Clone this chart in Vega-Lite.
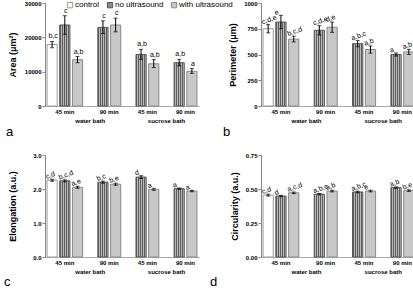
{
  "$schema": "https://vega.github.io/schema/vega-lite/v6.json",
  "padding": {"left": 3, "top": 0, "right": 0, "bottom": 0},
  "autosize": {"type": "pad"},
  "bounds": "flush",
  "columns": 2,
  "spacing": {"column": 62, "row": 49},
  "resolve": {"scale": {"fill": "independent", "stroke": "independent"}},
  "datasets": {
    "cells": [
      {"measure": "area", "id": "c45", "treat": "control", "mean": 17900, "lo": 17000, "hi": 18800, "letters": "b,c"},
      {"measure": "area", "id": "n45", "treat": "no ultrasound", "mean": 23600, "lo": 20900, "hi": 26300, "letters": "c"},
      {"measure": "area", "id": "u45", "treat": "with ultrasound", "mean": 13500, "lo": 12600, "hi": 14400, "letters": "a,b"},
      {"measure": "area", "id": "n90", "treat": "no ultrasound", "mean": 22900, "lo": 21100, "hi": 24800, "letters": "c"},
      {"measure": "area", "id": "u90", "treat": "with ultrasound", "mean": 23600, "lo": 21600, "hi": 25600, "letters": "c"},
      {"measure": "area", "id": "sn45", "treat": "no ultrasound", "mean": 15000, "lo": 13600, "hi": 16500, "letters": "a,b"},
      {"measure": "area", "id": "su45", "treat": "with ultrasound", "mean": 12300, "lo": 11200, "hi": 13500, "letters": "a,b"},
      {"measure": "area", "id": "sn90", "treat": "no ultrasound", "mean": 12600, "lo": 11700, "hi": 13600, "letters": "a,b"},
      {"measure": "area", "id": "su90", "treat": "with ultrasound", "mean": 10100, "lo": 9500, "hi": 10900, "letters": "a"},
      {"measure": "perimeter", "id": "c45", "treat": "control", "mean": 750, "lo": 710, "hi": 790, "letters": "c,d,e"},
      {"measure": "perimeter", "id": "n45", "treat": "no ultrasound", "mean": 815, "lo": 750, "hi": 880, "letters": "e"},
      {"measure": "perimeter", "id": "u45", "treat": "with ultrasound", "mean": 650, "lo": 622, "hi": 678, "letters": "b,c,d"},
      {"measure": "perimeter", "id": "n90", "treat": "no ultrasound", "mean": 735, "lo": 690, "hi": 780, "letters": "c,d,e"},
      {"measure": "perimeter", "id": "u90", "treat": "with ultrasound", "mean": 765, "lo": 715, "hi": 815, "letters": "d,e"},
      {"measure": "perimeter", "id": "sn45", "treat": "no ultrasound", "mean": 605, "lo": 575, "hi": 635, "letters": "a,b,c"},
      {"measure": "perimeter", "id": "su45", "treat": "with ultrasound", "mean": 548, "lo": 513, "hi": 583, "letters": "a,b"},
      {"measure": "perimeter", "id": "sn90", "treat": "no ultrasound", "mean": 500, "lo": 485, "hi": 515, "letters": "a"},
      {"measure": "perimeter", "id": "su90", "treat": "with ultrasound", "mean": 525, "lo": 500, "hi": 550, "letters": "a,b"},
      {"measure": "elongation", "id": "c45", "treat": "control", "mean": 2.26, "lo": 2.23, "hi": 2.29, "letters": "c,d"},
      {"measure": "elongation", "id": "n45", "treat": "no ultrasound", "mean": 2.24, "lo": 2.21, "hi": 2.27, "letters": "b,c,d"},
      {"measure": "elongation", "id": "u45", "treat": "with ultrasound", "mean": 2.05, "lo": 2.02, "hi": 2.08, "letters": "a,e"},
      {"measure": "elongation", "id": "n90", "treat": "no ultrasound", "mean": 2.2, "lo": 2.17, "hi": 2.23, "letters": "b,c"},
      {"measure": "elongation", "id": "u90", "treat": "with ultrasound", "mean": 2.14, "lo": 2.11, "hi": 2.17, "letters": "b,e"},
      {"measure": "elongation", "id": "sn45", "treat": "no ultrasound", "mean": 2.35, "lo": 2.31, "hi": 2.39, "letters": "d"},
      {"measure": "elongation", "id": "su45", "treat": "with ultrasound", "mean": 1.99, "lo": 1.96, "hi": 2.02, "letters": "a"},
      {"measure": "elongation", "id": "sn90", "treat": "no ultrasound", "mean": 2.01, "lo": 1.99, "hi": 2.03, "letters": "a"},
      {"measure": "elongation", "id": "su90", "treat": "with ultrasound", "mean": 1.94, "lo": 1.92, "hi": 1.96, "letters": "a"},
      {"measure": "circularity", "id": "c45", "treat": "control", "mean": 0.455, "lo": 0.448, "hi": 0.462, "letters": "c,d"},
      {"measure": "circularity", "id": "n45", "treat": "no ultrasound", "mean": 0.448, "lo": 0.443, "hi": 0.453, "letters": "d"},
      {"measure": "circularity", "id": "u45", "treat": "with ultrasound", "mean": 0.472, "lo": 0.466, "hi": 0.478, "letters": "a,c,d"},
      {"measure": "circularity", "id": "n90", "treat": "no ultrasound", "mean": 0.462, "lo": 0.457, "hi": 0.467, "letters": "a,b,c"},
      {"measure": "circularity", "id": "u90", "treat": "with ultrasound", "mean": 0.485, "lo": 0.479, "hi": 0.491, "letters": "a,b"},
      {"measure": "circularity", "id": "sn45", "treat": "no ultrasound", "mean": 0.478, "lo": 0.472, "hi": 0.484, "letters": "a,b,c"},
      {"measure": "circularity", "id": "su45", "treat": "with ultrasound", "mean": 0.485, "lo": 0.479, "hi": 0.491, "letters": "e"},
      {"measure": "circularity", "id": "sn90", "treat": "no ultrasound", "mean": 0.51, "lo": 0.505, "hi": 0.515, "letters": "a,b"},
      {"measure": "circularity", "id": "su90", "treat": "with ultrasound", "mean": 0.488, "lo": 0.482, "hi": 0.494, "letters": "b,e"}
    ]
  },
  "concat": [
    {
      "width": 154, "height": 103,
      "data": {"name": "cells"},
      "transform": [{"filter": "datum.measure == 'area'"}],
      "title": {"text": "a", "orient": "bottom", "anchor": "start", "frame": "bounds", "fontSize": 13, "fontWeight": "normal", "offset": 3, "dx": -2},
      "encoding": {
        "x": {"field": "id", "type": "nominal", "sort": null,
              "scale": {"domain": ["c45", "n45", "u45", "s1", "n90", "u90", "s2", "sn45", "su45", "s3", "sn90", "su90"], "paddingInner": 0.2, "paddingOuter": 0.16},
              "axis": {"title": null, "ticks": false, "labelAngle": 0, "labelPadding": 2, "labelLineHeight": 9, "domainColor": "#aaaaaa",
                       "labelOffset": {"condition": {"test": "indexof(['n90', 'sn45', 'sn90'], datum.value) >= 0", "value": 6.3}, "value": 0},
                       "labelExpr": "datum.value == 'n45' || datum.value == 'sn45' ? '45 min' : datum.value == 'n90' || datum.value == 'sn90' ? '90 min' : datum.value == 's1' ? ['', 'water bath'] : datum.value == 's3' ? ['', 'sucrose bath'] : ''"}},
        "y": {"type": "quantitative", "scale": {"domain": [0, 30000]},
              "axis": {"title": "Area (μm²)", "values": [0, 10000, 20000, 30000], "format": "d", "titleX": -33, "titleY": 51.5, "titleBaseline": "middle"}}
      },
      "layer": [
        {
          "mark": {"type": "bar", "strokeWidth": 1},
          "encoding": {
            "y": {"field": "mean", "type": "quantitative", "title": "Area (μm²)"},
            "fill": {"field": "treat", "type": "nominal",
                     "condition": {"test": "datum.treat == 'no ultrasound'", "value": {"gradient": "linear", "x1": 0, "y1": 0, "x2": 1, "y2": 0, "stops": [
                       {"offset": 0, "color": "#5e5e5e"}, {"offset": 0.1, "color": "#5e5e5e"}, {"offset": 0.1, "color": "#b8b8b8"}, {"offset": 0.2, "color": "#b8b8b8"},
                       {"offset": 0.2, "color": "#5e5e5e"}, {"offset": 0.3, "color": "#5e5e5e"}, {"offset": 0.3, "color": "#b8b8b8"}, {"offset": 0.4, "color": "#b8b8b8"},
                       {"offset": 0.4, "color": "#5e5e5e"}, {"offset": 0.5, "color": "#5e5e5e"}, {"offset": 0.5, "color": "#b8b8b8"}, {"offset": 0.6, "color": "#b8b8b8"},
                       {"offset": 0.6, "color": "#5e5e5e"}, {"offset": 0.7, "color": "#5e5e5e"}, {"offset": 0.7, "color": "#b8b8b8"}, {"offset": 0.8, "color": "#b8b8b8"},
                       {"offset": 0.8, "color": "#5e5e5e"}, {"offset": 0.9, "color": "#5e5e5e"}, {"offset": 0.9, "color": "#b8b8b8"}, {"offset": 1, "color": "#b8b8b8"}]}},
                     "scale": {"domain": ["control", "no ultrasound", "with ultrasound"], "range": ["#ffffff", "#8a8a8a", "#c8c8c8"]},
                     "legend": {"title": null, "orient": "none", "direction": "horizontal", "legendX": 21, "legendY": -2, "padding": 0,
                                "symbolType": "square", "symbolSize": 28, "symbolStrokeColor": "#777777", "symbolStrokeWidth": 1,
                                "labelFontSize": 8, "labelFontWeight": "normal", "labelOffset": 1, "columnPadding": 5}},
            "stroke": {"field": "treat", "type": "nominal", "legend": null,
                       "scale": {"domain": ["control", "no ultrasound", "with ultrasound"], "range": ["#9a9a9a", "#555555", "#8a8a8a"]}}
          }
        },
        {
          "mark": {"type": "errorbar", "color": "#000000", "ticks": {"size": 4, "thickness": 1}, "thickness": 1},
          "encoding": {"y": {"field": "lo", "type": "quantitative", "title": "Area (μm²)"}, "y2": {"field": "hi"}}
        },
        {
          "mark": {"type": "text", "align": "center", "baseline": "bottom", "dy": -2, "dx": 1, "fontSize": 7, "fill": "#000000"},
          "encoding": {"y": {"field": "hi", "type": "quantitative", "title": "Area (μm²)"}, "text": {"field": "letters"}}
        }
      ]
    },
    {
      "width": 155, "height": 103,
      "data": {"name": "cells"},
      "transform": [{"filter": "datum.measure == 'perimeter'"}],
      "title": {"text": "b", "orient": "bottom", "anchor": "start", "frame": "bounds", "fontSize": 13, "fontWeight": "normal", "offset": 3, "dx": -5},
      "encoding": {
        "x": {"field": "id", "type": "nominal", "sort": null,
              "scale": {"domain": ["c45", "n45", "u45", "s1", "n90", "u90", "s2", "sn45", "su45", "s3", "sn90", "su90"], "paddingInner": 0.2, "paddingOuter": 0.16},
              "axis": {"title": null, "ticks": false, "labelAngle": 0, "labelPadding": 2, "labelLineHeight": 9, "domainColor": "#aaaaaa",
                       "labelOffset": {"condition": {"test": "indexof(['n90', 'sn45', 'sn90'], datum.value) >= 0", "value": 6.3}, "value": 0},
                       "labelExpr": "datum.value == 'n45' || datum.value == 'sn45' ? '45 min' : datum.value == 'n90' || datum.value == 'sn90' ? '90 min' : datum.value == 's1' ? ['', 'water bath'] : datum.value == 's3' ? ['', 'sucrose bath'] : ''"}},
        "y": {"type": "quantitative", "scale": {"domain": [0, 1000]},
              "axis": {"title": "Perimeter (μm)", "values": [0, 250, 500, 750, 1000], "format": "d", "titleX": -29, "titleY": 51.5, "titleBaseline": "middle"}}
      },
      "layer": [
        {
          "mark": {"type": "bar", "strokeWidth": 1},
          "encoding": {
            "y": {"field": "mean", "type": "quantitative", "title": "Perimeter (μm)"},
            "fill": {"field": "treat", "type": "nominal", "legend": null,
                     "condition": {"test": "datum.treat == 'no ultrasound'", "value": {"gradient": "linear", "x1": 0, "y1": 0, "x2": 1, "y2": 0, "stops": [
                       {"offset": 0, "color": "#5e5e5e"}, {"offset": 0.1, "color": "#5e5e5e"}, {"offset": 0.1, "color": "#b8b8b8"}, {"offset": 0.2, "color": "#b8b8b8"},
                       {"offset": 0.2, "color": "#5e5e5e"}, {"offset": 0.3, "color": "#5e5e5e"}, {"offset": 0.3, "color": "#b8b8b8"}, {"offset": 0.4, "color": "#b8b8b8"},
                       {"offset": 0.4, "color": "#5e5e5e"}, {"offset": 0.5, "color": "#5e5e5e"}, {"offset": 0.5, "color": "#b8b8b8"}, {"offset": 0.6, "color": "#b8b8b8"},
                       {"offset": 0.6, "color": "#5e5e5e"}, {"offset": 0.7, "color": "#5e5e5e"}, {"offset": 0.7, "color": "#b8b8b8"}, {"offset": 0.8, "color": "#b8b8b8"},
                       {"offset": 0.8, "color": "#5e5e5e"}, {"offset": 0.9, "color": "#5e5e5e"}, {"offset": 0.9, "color": "#b8b8b8"}, {"offset": 1, "color": "#b8b8b8"}]}},
                     "scale": {"domain": ["control", "no ultrasound", "with ultrasound"], "range": ["#ffffff", "#8a8a8a", "#c8c8c8"]}},
            "stroke": {"field": "treat", "type": "nominal", "legend": null,
                       "scale": {"domain": ["control", "no ultrasound", "with ultrasound"], "range": ["#9a9a9a", "#555555", "#8a8a8a"]}}
          }
        },
        {
          "mark": {"type": "errorbar", "color": "#000000", "ticks": {"size": 4, "thickness": 1}, "thickness": 1},
          "encoding": {"y": {"field": "lo", "type": "quantitative", "title": "Perimeter (μm)"}, "y2": {"field": "hi"}}
        },
        {
          "mark": {"type": "text", "align": "left", "baseline": "bottom", "angle": 340, "dy": -1, "dx": -5, "fontSize": 7, "fill": "#000000"},
          "encoding": {"y": {"field": "hi", "type": "quantitative", "title": "Perimeter (μm)"}, "text": {"field": "letters"}}
        }
      ]
    },
    {
      "width": 154, "height": 102,
      "data": {"name": "cells"},
      "transform": [{"filter": "datum.measure == 'elongation'"}],
      "title": {"text": "c", "orient": "bottom", "anchor": "start", "frame": "bounds", "fontSize": 13, "fontWeight": "normal", "offset": 2, "dx": -4},
      "encoding": {
        "x": {"field": "id", "type": "nominal", "sort": null,
              "scale": {"domain": ["c45", "n45", "u45", "s1", "n90", "u90", "s2", "sn45", "su45", "s3", "sn90", "su90"], "paddingInner": 0.2, "paddingOuter": 0.16},
              "axis": {"title": null, "ticks": false, "labelAngle": 0, "labelPadding": 2, "labelLineHeight": 9, "domainColor": "#aaaaaa",
                       "labelOffset": {"condition": {"test": "indexof(['n90', 'sn45', 'sn90'], datum.value) >= 0", "value": 6.3}, "value": 0},
                       "labelExpr": "datum.value == 'n45' || datum.value == 'sn45' ? '45 min' : datum.value == 'n90' || datum.value == 'sn90' ? '90 min' : datum.value == 's1' ? ['', 'water bath'] : datum.value == 's3' ? ['', 'sucrose bath'] : ''"}},
        "y": {"type": "quantitative", "scale": {"domain": [0, 3]},
              "axis": {"title": "Elongation (a.u.)", "values": [0, 1, 2, 3], "format": ".1f", "titleX": -33, "titleY": 51, "titleBaseline": "middle"}}
      },
      "layer": [
        {
          "mark": {"type": "bar", "strokeWidth": 1},
          "encoding": {
            "y": {"field": "mean", "type": "quantitative", "title": "Elongation (a.u.)"},
            "fill": {"field": "treat", "type": "nominal", "legend": null,
                     "condition": {"test": "datum.treat == 'no ultrasound'", "value": {"gradient": "linear", "x1": 0, "y1": 0, "x2": 1, "y2": 0, "stops": [
                       {"offset": 0, "color": "#5e5e5e"}, {"offset": 0.1, "color": "#5e5e5e"}, {"offset": 0.1, "color": "#b8b8b8"}, {"offset": 0.2, "color": "#b8b8b8"},
                       {"offset": 0.2, "color": "#5e5e5e"}, {"offset": 0.3, "color": "#5e5e5e"}, {"offset": 0.3, "color": "#b8b8b8"}, {"offset": 0.4, "color": "#b8b8b8"},
                       {"offset": 0.4, "color": "#5e5e5e"}, {"offset": 0.5, "color": "#5e5e5e"}, {"offset": 0.5, "color": "#b8b8b8"}, {"offset": 0.6, "color": "#b8b8b8"},
                       {"offset": 0.6, "color": "#5e5e5e"}, {"offset": 0.7, "color": "#5e5e5e"}, {"offset": 0.7, "color": "#b8b8b8"}, {"offset": 0.8, "color": "#b8b8b8"},
                       {"offset": 0.8, "color": "#5e5e5e"}, {"offset": 0.9, "color": "#5e5e5e"}, {"offset": 0.9, "color": "#b8b8b8"}, {"offset": 1, "color": "#b8b8b8"}]}},
                     "scale": {"domain": ["control", "no ultrasound", "with ultrasound"], "range": ["#ffffff", "#8a8a8a", "#c8c8c8"]}},
            "stroke": {"field": "treat", "type": "nominal", "legend": null,
                       "scale": {"domain": ["control", "no ultrasound", "with ultrasound"], "range": ["#9a9a9a", "#555555", "#8a8a8a"]}}
          }
        },
        {
          "mark": {"type": "errorbar", "color": "#000000", "ticks": {"size": 4, "thickness": 1}, "thickness": 1},
          "encoding": {"y": {"field": "lo", "type": "quantitative", "title": "Elongation (a.u.)"}, "y2": {"field": "hi"}}
        },
        {
          "mark": {"type": "text", "align": "left", "baseline": "bottom", "angle": 340, "dy": -1, "dx": -5, "fontSize": 7, "fill": "#000000"},
          "encoding": {"y": {"field": "hi", "type": "quantitative", "title": "Elongation (a.u.)"}, "text": {"field": "letters"}}
        }
      ]
    },
    {
      "width": 155, "height": 102,
      "data": {"name": "cells"},
      "transform": [{"filter": "datum.measure == 'circularity'"}],
      "title": {"text": "d", "orient": "bottom", "anchor": "start", "frame": "bounds", "fontSize": 13, "fontWeight": "normal", "offset": 2, "dx": -20},
      "encoding": {
        "x": {"field": "id", "type": "nominal", "sort": null,
              "scale": {"domain": ["c45", "n45", "u45", "s1", "n90", "u90", "s2", "sn45", "su45", "s3", "sn90", "su90"], "paddingInner": 0.2, "paddingOuter": 0.16},
              "axis": {"title": null, "ticks": false, "labelAngle": 0, "labelPadding": 2, "labelLineHeight": 9, "domainColor": "#aaaaaa",
                       "labelOffset": {"condition": {"test": "indexof(['n90', 'sn45', 'sn90'], datum.value) >= 0", "value": 6.3}, "value": 0},
                       "labelExpr": "datum.value == 'n45' || datum.value == 'sn45' ? '45 min' : datum.value == 'n90' || datum.value == 'sn90' ? '90 min' : datum.value == 's1' ? ['', 'water bath'] : datum.value == 's3' ? ['', 'sucrose bath'] : ''"}},
        "y": {"type": "quantitative", "scale": {"domain": [0, 0.75]},
              "axis": {"title": "Circularity (a.u.)", "values": [0, 0.25, 0.5, 0.75], "format": ".2f", "titleX": -27, "titleY": 51, "titleBaseline": "middle"}}
      },
      "layer": [
        {
          "mark": {"type": "bar", "strokeWidth": 1},
          "encoding": {
            "y": {"field": "mean", "type": "quantitative", "title": "Circularity (a.u.)"},
            "fill": {"field": "treat", "type": "nominal", "legend": null,
                     "condition": {"test": "datum.treat == 'no ultrasound'", "value": {"gradient": "linear", "x1": 0, "y1": 0, "x2": 1, "y2": 0, "stops": [
                       {"offset": 0, "color": "#5e5e5e"}, {"offset": 0.1, "color": "#5e5e5e"}, {"offset": 0.1, "color": "#b8b8b8"}, {"offset": 0.2, "color": "#b8b8b8"},
                       {"offset": 0.2, "color": "#5e5e5e"}, {"offset": 0.3, "color": "#5e5e5e"}, {"offset": 0.3, "color": "#b8b8b8"}, {"offset": 0.4, "color": "#b8b8b8"},
                       {"offset": 0.4, "color": "#5e5e5e"}, {"offset": 0.5, "color": "#5e5e5e"}, {"offset": 0.5, "color": "#b8b8b8"}, {"offset": 0.6, "color": "#b8b8b8"},
                       {"offset": 0.6, "color": "#5e5e5e"}, {"offset": 0.7, "color": "#5e5e5e"}, {"offset": 0.7, "color": "#b8b8b8"}, {"offset": 0.8, "color": "#b8b8b8"},
                       {"offset": 0.8, "color": "#5e5e5e"}, {"offset": 0.9, "color": "#5e5e5e"}, {"offset": 0.9, "color": "#b8b8b8"}, {"offset": 1, "color": "#b8b8b8"}]}},
                     "scale": {"domain": ["control", "no ultrasound", "with ultrasound"], "range": ["#ffffff", "#8a8a8a", "#c8c8c8"]}},
            "stroke": {"field": "treat", "type": "nominal", "legend": null,
                       "scale": {"domain": ["control", "no ultrasound", "with ultrasound"], "range": ["#9a9a9a", "#555555", "#8a8a8a"]}}
          }
        },
        {
          "mark": {"type": "errorbar", "color": "#000000", "ticks": {"size": 4, "thickness": 1}, "thickness": 1},
          "encoding": {"y": {"field": "lo", "type": "quantitative", "title": "Circularity (a.u.)"}, "y2": {"field": "hi"}}
        },
        {
          "mark": {"type": "text", "align": "left", "baseline": "bottom", "angle": 340, "dy": -1, "dx": -5, "fontSize": 7, "fill": "#000000"},
          "encoding": {"y": {"field": "hi", "type": "quantitative", "title": "Circularity (a.u.)"}, "text": {"field": "letters"}}
        }
      ]
    }
  ],
  "config": {
    "font": "Liberation Sans",
    "view": {"stroke": null},
    "axis": {"grid": false, "labelFont": "Liberation Sans", "labelFontSize": 6, "labelFontWeight": "bold", "labelColor": "#000000",
             "titleFont": "Liberation Sans", "titleFontSize": 9, "titleFontWeight": "bold", "titleColor": "#000000",
             "domainColor": "#888888", "tickColor": "#888888", "tickSize": 3, "labelPadding": 1},
    "legend": {"labelFont": "Liberation Sans", "labelColor": "#000000"},
    "title": {"font": "Liberation Sans", "color": "#000000"},
    "text": {"font": "Liberation Sans", "color": "#000000"}
  }
}
